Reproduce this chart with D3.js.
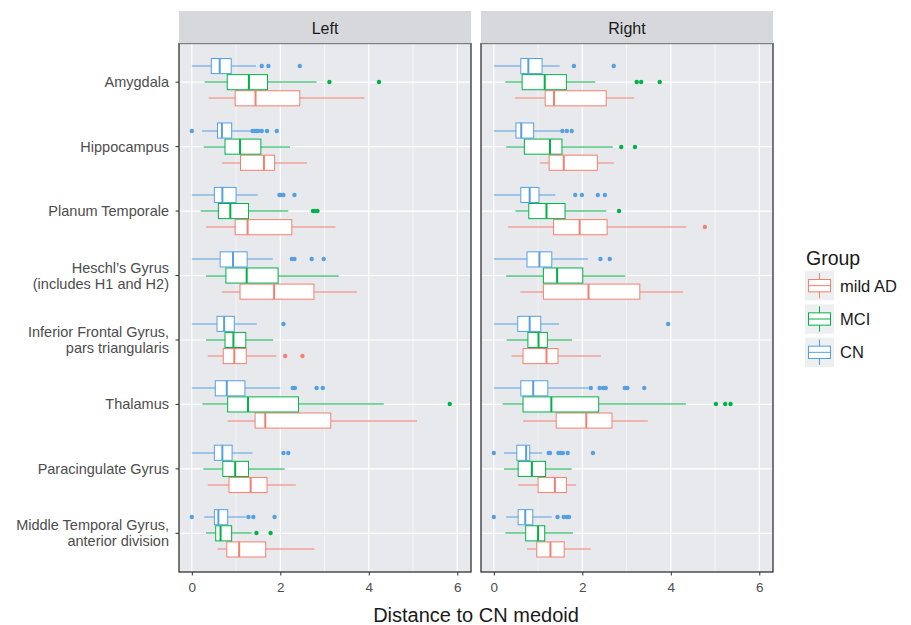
<!DOCTYPE html>
<html>
<head>
<meta charset="utf-8">
<script src="https://cdn.jsdelivr.net/npm/d3@7/dist/d3.min.js"></script>
<style>
  body { margin: 0; background: #fff; }
  svg { font-family: "Liberation Sans", Arial, sans-serif; }
</style>
</head>
<body>
<svg id="chart" width="911" height="625"></svg>
<script>
// regions, top to bottom
const regions = [
  "Amygdala", "Hippocampus", "Planum Temporale", "Heschl’s Gyrus\n(includes H1 and H2)",
  "Inferior Frontal Gyrus,\npars triangularis", "Thalamus", "Paracingulate Gyrus",
  "Middle Temporal Gyrus,\nanterior division"
];
const sides = ["Left", "Right"];
const groups = ["mild AD", "MCI", "CN"];
const xTicks = [0, 2, 4, 6];

// box stats per region: [whisker low, q1, median, q3, whisker high]
const leftCN = [
  [0.0, 0.44, 0.63, 0.89, 1.45], [0.23, 0.58, 0.68, 0.90, 1.33], [0.0, 0.51, 0.69, 1.00, 1.49],
  [0.0, 0.64, 0.93, 1.25, 1.83], [0.0, 0.57, 0.73, 0.96, 1.47], [0.0, 0.53, 0.79, 1.20, 2.00],
  [0.0, 0.51, 0.69, 0.91, 1.37], [0.28, 0.51, 0.60, 0.81, 1.22]
];
const leftMCI = [
  [0.29, 0.80, 1.29, 1.71, 2.82], [0.27, 0.75, 1.09, 1.56, 2.22], [0.20, 0.60, 0.87, 1.28, 2.18],
  [0.32, 0.77, 1.24, 1.95, 3.32], [0.32, 0.75, 0.94, 1.22, 1.84], [0.24, 0.81, 1.27, 2.41, 4.34],
  [0.26, 0.70, 0.98, 1.28, 2.10], [0.32, 0.54, 0.65, 0.90, 1.35]
];
const leftAD = [
  [0.38, 0.98, 1.44, 2.44, 3.90], [0.68, 1.10, 1.63, 1.87, 2.60], [0.32, 0.98, 1.26, 2.26, 3.25],
  [0.68, 1.09, 1.86, 2.76, 3.73], [0.36, 0.71, 0.96, 1.23, 1.91], [0.81, 1.43, 1.66, 3.14, 5.09],
  [0.36, 0.84, 1.33, 1.70, 2.35], [0.58, 0.79, 1.07, 1.67, 2.77]
];
const rightCN = [
  [0.0, 0.61, 0.78, 1.09, 1.49], [0.0, 0.50, 0.62, 0.90, 1.51], [0.0, 0.61, 0.81, 1.02, 1.39],
  [0.0, 0.75, 1.03, 1.31, 2.13], [0.0, 0.54, 0.81, 1.06, 1.47], [0.0, 0.61, 0.89, 1.22, 2.13],
  [0.23, 0.52, 0.73, 0.81, 1.09], [0.28, 0.55, 0.71, 0.88, 1.31]
];
const rightMCI = [
  [0.26, 0.64, 1.15, 1.64, 2.29], [0.28, 0.69, 1.27, 1.54, 2.69], [0.49, 0.79, 1.19, 1.61, 2.54],
  [0.28, 1.12, 1.43, 2.01, 2.97], [0.29, 0.77, 1.01, 1.21, 1.77], [0.20, 0.66, 1.30, 2.37, 4.34],
  [0.23, 0.55, 0.86, 1.17, 1.76], [0.26, 0.72, 1.00, 1.15, 1.79]
];
const rightAD = [
  [0.48, 1.16, 1.36, 2.54, 3.17], [1.04, 1.25, 1.58, 2.34, 2.71], [0.32, 1.35, 1.94, 2.56, 4.35],
  [0.60, 1.12, 2.14, 3.30, 4.28], [0.40, 0.66, 1.19, 1.45, 2.42], [0.66, 1.41, 2.09, 2.67, 3.48],
  [0.55, 1.00, 1.38, 1.64, 1.86], [0.75, 0.97, 1.28, 1.59, 2.19]
];

// outliers per region
const leftCNOut = [
  [1.58, 1.73, 2.44], [0.0, 1.37, 1.41, 1.46, 1.50, 1.58, 1.70, 1.92], [1.98, 2.01, 2.07, 2.32],
  [2.26, 2.32, 2.71, 2.98], [2.07], [2.28, 2.33, 2.82, 2.96], [2.07, 2.18], [0.0, 1.28, 1.39, 1.87]
];
const leftMCIOut = [[3.11, 4.23], [], [2.74, 2.78, 2.84], [], [], [5.83], [], [1.46, 1.78]];
const leftADOut = [[], [], [], [], [2.11, 2.50], [], [], []];
const rightCNOut = [
  [1.81, 2.71], [1.55, 1.65, 1.76], [1.84, 1.99, 2.35, 2.51], [2.41, 2.62], [3.94],
  [2.19, 2.39, 2.47, 2.53, 2.96, 3.02, 3.40], [0.0, 1.24, 1.27, 1.46, 1.51, 1.56, 1.67, 2.24],
  [0.0, 1.44, 1.58, 1.65, 1.70]
];
const rightMCIOut = [[3.23, 3.33, 3.75], [2.88, 3.19], [2.83], [], [], [5.02, 5.23, 5.35], [], []];
const rightADOut = [[], [], [4.77], [], [], [], [], []];

const stats = {
  Left: { "mild AD": leftAD, MCI: leftMCI, CN: leftCN },
  Right: { "mild AD": rightAD, MCI: rightMCI, CN: rightCN }
};
const outliers = {
  Left: { "mild AD": leftADOut, MCI: leftMCIOut, CN: leftCNOut },
  Right: { "mild AD": rightADOut, MCI: rightMCIOut, CN: rightCNOut }
};

const colors = d3.scaleOrdinal()
  .domain(groups)
  .range(["#f3806f", "#00b247", "#55a0e2"]);

const svg = d3.select("#chart");
const panelTop = 43.5, panelH = 528.5, panelW = 292;
const panelX = { Left: 179, Right: 481 };

const x = d3.scaleLinear().domain([-0.29, 6.31]).range([0, panelW]);
const y = d3.scalePoint().domain(regions).range([0, panelH]).padding(0.6);
// dodge: CN on top, mild AD at bottom
const dodge = d3.scaleBand()
  .domain(["CN", "MCI", "mild AD"])
  .range([-y.step() * 0.375, y.step() * 0.375]);
const bh = dodge.bandwidth();

sides.forEach(side => {
  const g = svg.append("g").attr("transform", `translate(${panelX[side]},${panelTop})`);

  // strip
  svg.append("rect")
    .attr("x", panelX[side]).attr("y", 11)
    .attr("width", panelW).attr("height", panelTop - 11)
    .attr("fill", "#d7d8db");
  svg.append("text")
    .attr("x", panelX[side] + panelW / 2).attr("y", 33.5)
    .attr("text-anchor", "middle")
    .style("font-size", "16px").style("fill", "#1a1a1a")
    .text(side);

  // background + grid
  g.append("rect").attr("width", panelW).attr("height", panelH).attr("fill", "#e8e9ec");
  [1, 3, 5].forEach(v => {
    g.append("line").attr("x1", x(v)).attr("x2", x(v)).attr("y1", 0).attr("y2", panelH)
      .attr("stroke", "#fff").attr("stroke-width", 0.6);
  });
  xTicks.forEach(v => {
    g.append("line").attr("x1", x(v)).attr("x2", x(v)).attr("y1", 0).attr("y2", panelH)
      .attr("stroke", "#fff").attr("stroke-width", 1.2);
  });
  regions.forEach(r => {
    g.append("line").attr("x1", 0).attr("x2", panelW).attr("y1", y(r)).attr("y2", y(r))
      .attr("stroke", "#fff").attr("stroke-width", 1.2);
  });

  // boxes
  groups.forEach(grp => {
    const col = colors(grp);
    regions.forEach((r, i) => {
      const [lo, q1, med, q3, hi] = stats[side][grp][i];
      const cy = Math.round(y(r) + dodge(grp) + bh / 2 + panelTop) - panelTop;
      g.append("line").attr("x1", x(lo)).attr("x2", x(q1)).attr("y1", cy).attr("y2", cy)
        .attr("stroke", col).attr("stroke-width", 1);
      g.append("line").attr("x1", x(q3)).attr("x2", x(hi)).attr("y1", cy).attr("y2", cy)
        .attr("stroke", col).attr("stroke-width", 1);
      g.append("rect")
        .attr("x", x(q1)).attr("y", y(r) + dodge(grp) + 0.5)
        .attr("width", x(q3) - x(q1)).attr("height", bh - 1)
        .attr("fill", "#fff").attr("stroke", col).attr("stroke-width", 1);
      g.append("line").attr("x1", x(med)).attr("x2", x(med))
        .attr("y1", y(r) + dodge(grp) + 0.5).attr("y2", y(r) + dodge(grp) + bh - 0.5)
        .attr("stroke", col).attr("stroke-width", 2);
      g.selectAll(null)
        .data(outliers[side][grp][i])
        .enter()
        .append("circle")
        .attr("cx", d => x(d)).attr("cy", cy).attr("r", 2.2)
        .attr("fill", col);
    });
  });

  // border
  g.append("rect").attr("width", panelW).attr("height", panelH)
    .attr("fill", "none").attr("stroke", "#222").attr("stroke-width", 1.2);

  // x axis
  const xa = g.append("g").attr("transform", `translate(0,${panelH})`)
    .call(d3.axisBottom(x).tickValues(xTicks).tickSize(3.5).tickPadding(7).tickFormat(d3.format("d")));
  xa.select(".domain").remove();
  xa.selectAll("line").attr("stroke", "#333");
  xa.selectAll("text").style("font-size", "13.5px").style("fill", "#4d4d4d")
    .style("font-family", "Liberation Sans, Arial, sans-serif");
});

// y axis (left panel only)
const ya = svg.append("g").attr("transform", `translate(${panelX.Left},${panelTop})`);
regions.forEach(r => {
  ya.append("line").attr("x1", -3.5).attr("x2", 0).attr("y1", y(r)).attr("y2", y(r))
    .attr("stroke", "#333");
  const lines = r.split("\n");
  const t = ya.append("text")
    .attr("text-anchor", "end")
    .style("font-size", "14.5px").style("fill", "#4d4d4d");
  lines.forEach((ln, k) => {
    t.append("tspan")
      .attr("x", -10)
      .attr("y", y(r) + 5 + (k - (lines.length - 1) / 2) * 16)
      .text(ln);
  });
});

// x axis title
svg.append("text")
  .attr("x", (panelX.Left + panelX.Right + panelW) / 2).attr("y", 622)
  .attr("text-anchor", "middle")
  .style("font-size", "20px").style("fill", "#1a1a1a")
  .text("Distance to CN medoid");

// legend
const legend = svg.append("g").attr("transform", "translate(805,0)");
legend.append("text").attr("x", 1).attr("y", 265)
  .style("font-size", "19.5px").style("fill", "#1a1a1a").text("Group");
const keyTops = d3.scaleBand().domain(groups).range([271, 367]).paddingInner(0.12);
groups.forEach(grp => {
  const col = colors(grp);
  const ky = keyTops(grp), kh = keyTops.bandwidth();
  const kg = legend.append("g").attr("transform", `translate(0,${ky})`);
  kg.append("rect").attr("width", 29).attr("height", kh).attr("fill", "#eeeff1");
  kg.append("line").attr("x1", 14.5).attr("x2", 14.5).attr("y1", 2).attr("y2", kh - 2)
    .attr("stroke", col).attr("stroke-width", 1);
  kg.append("rect").attr("x", 3.5).attr("y", kh * 0.29).attr("width", 22).attr("height", kh * 0.42)
    .attr("fill", "#fff").attr("stroke", col).attr("stroke-width", 1);
  kg.append("line").attr("x1", 3.5).attr("x2", 25.5).attr("y1", kh / 2).attr("y2", kh / 2)
    .attr("stroke", col).attr("stroke-width", 1);
  legend.append("text").attr("x", 35).attr("y", ky + kh / 2 + 6)
    .style("font-size", "16.5px").style("fill", "#1a1a1a").text(grp);
});
</script>
</body>
</html>
